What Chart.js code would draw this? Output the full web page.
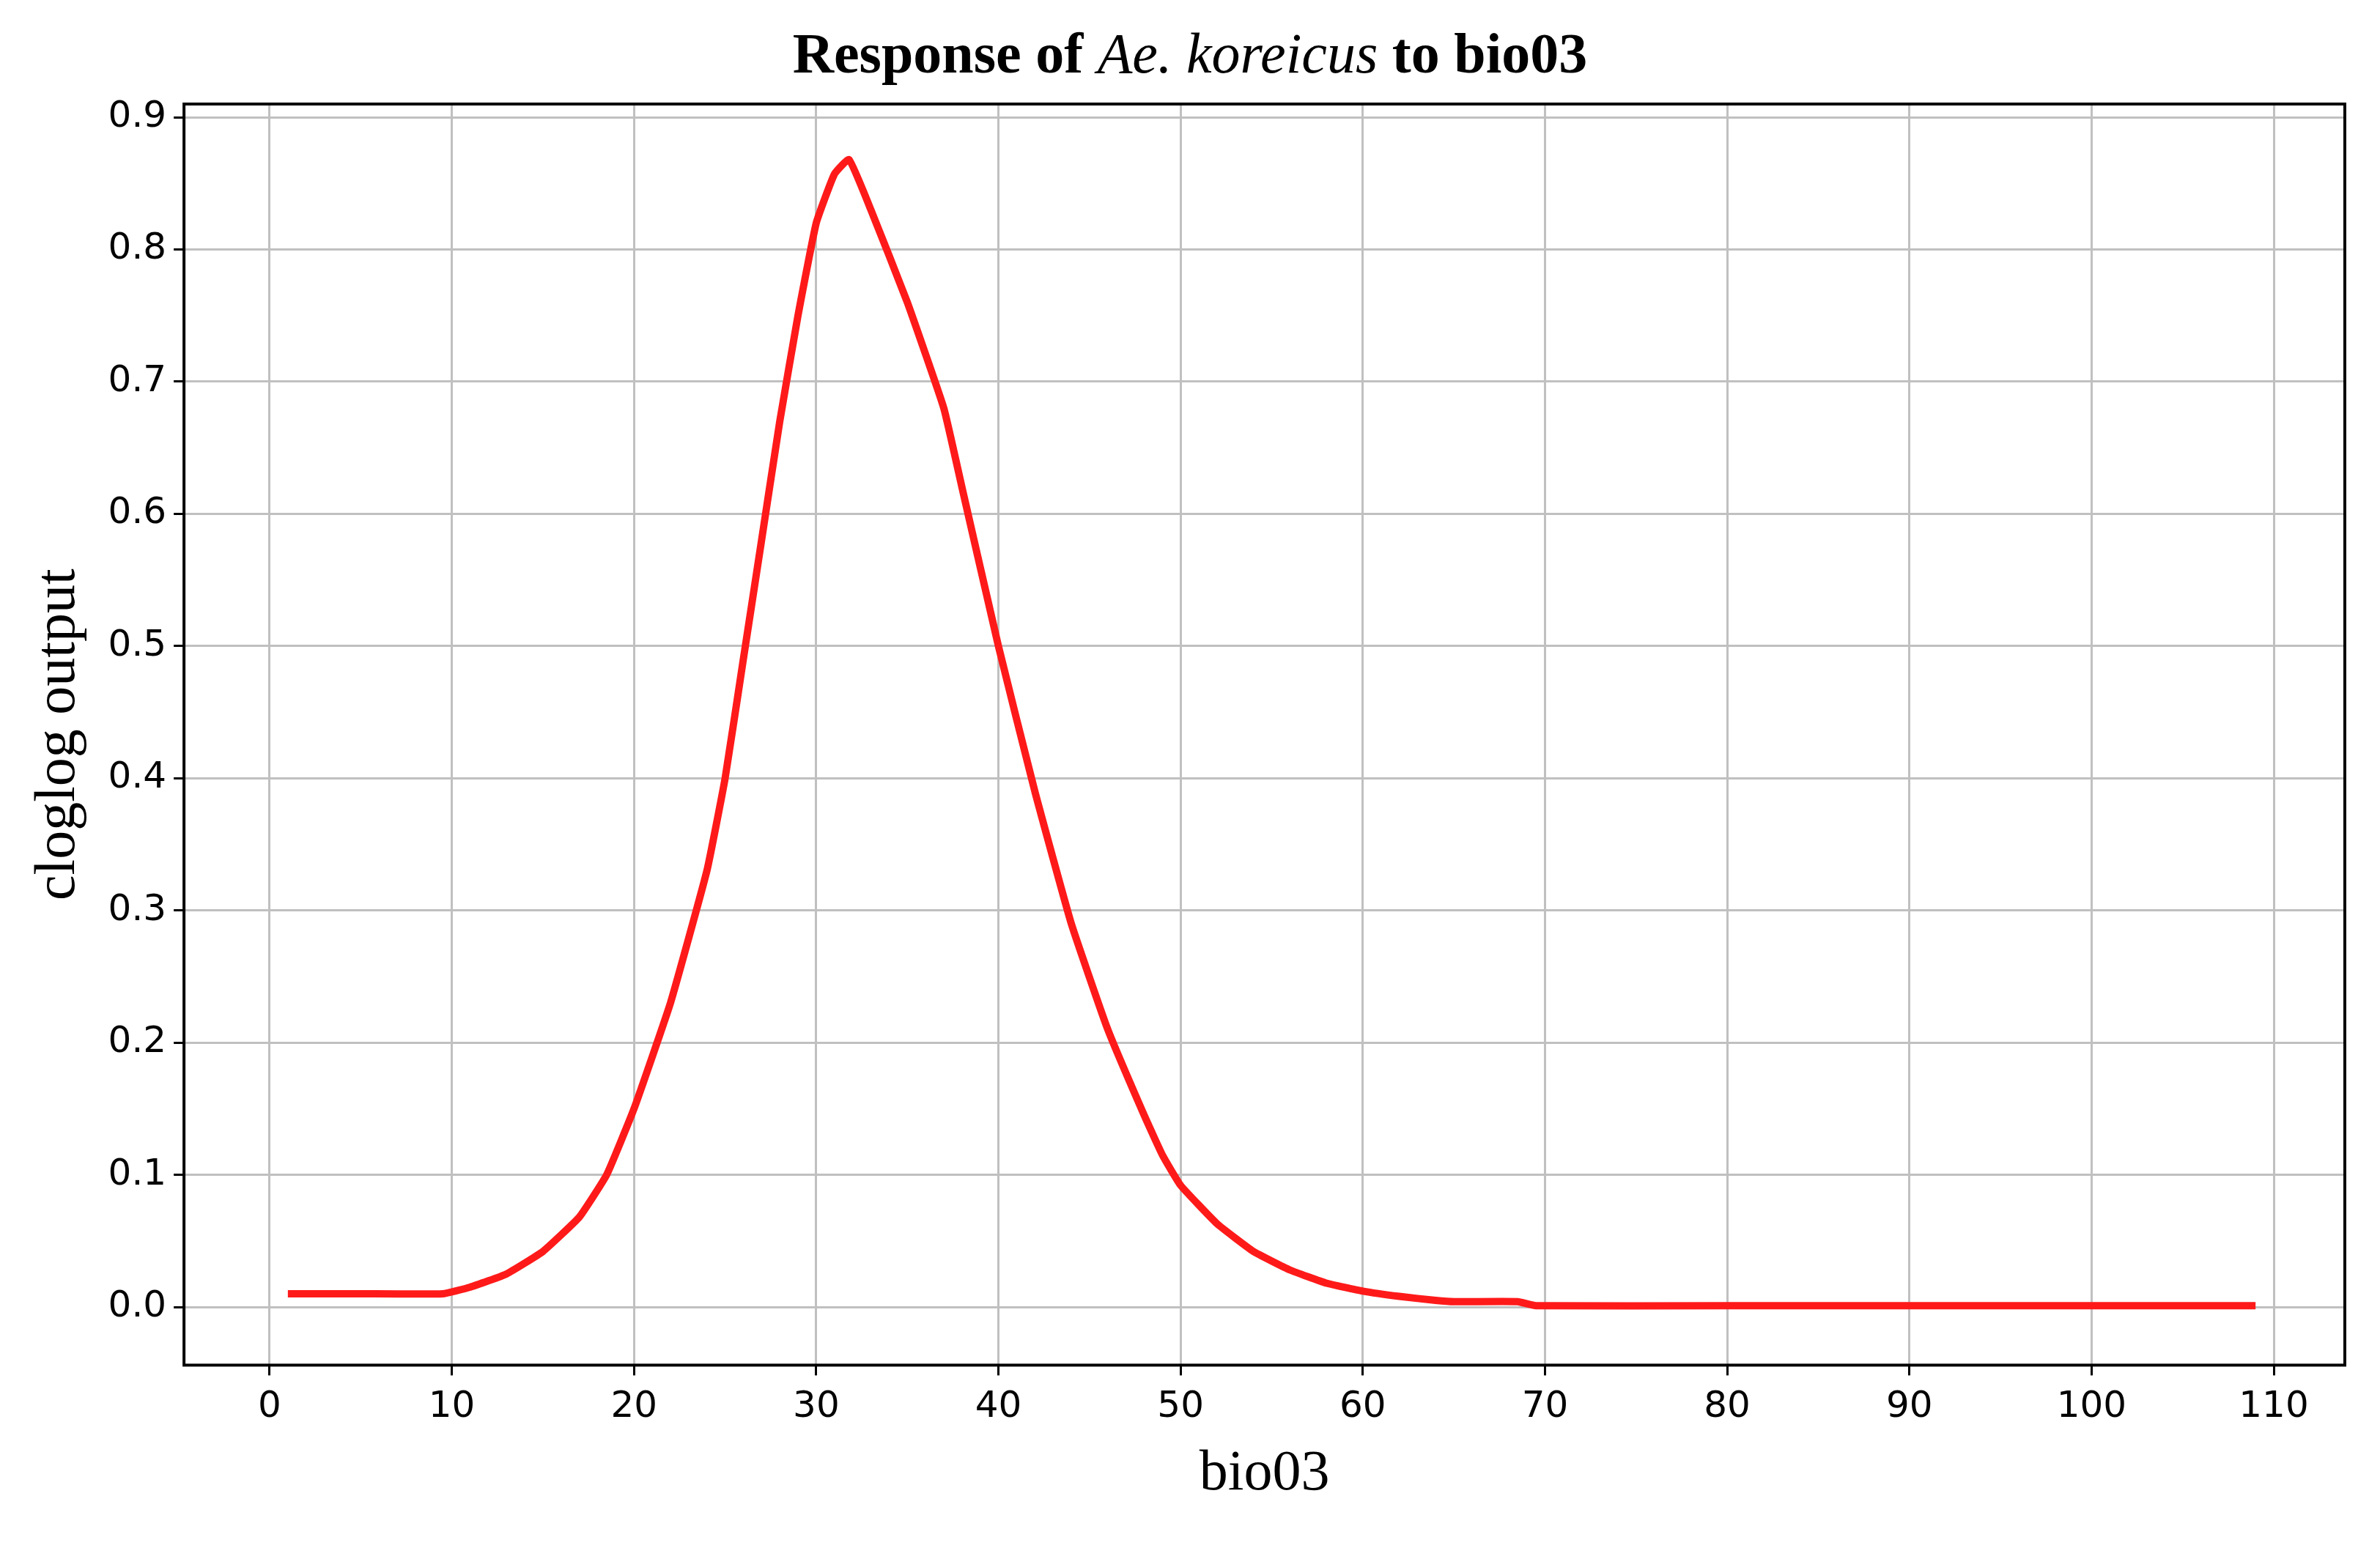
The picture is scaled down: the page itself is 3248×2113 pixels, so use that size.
<!DOCTYPE html>
<html><head><meta charset="utf-8">
<script src="https://cdn.jsdelivr.net/npm/chart.js@4"></script>
<style>
html,body{margin:0;padding:0;background:#fff;}
#wrap{position:relative;width:3248px;height:2113px;}
#title{position:absolute;top:28px;left:0;width:3248px;text-align:center;font-family:"Liberation Serif","DejaVu Serif",serif;font-size:78px;font-weight:bold;}
#title i{font-weight:normal;}
canvas{position:absolute;left:0;top:0;}
</style></head>
<body>
<div id="wrap">
<div id="title">Response of <i>Ae. koreicus</i> to bio03</div>
<canvas id="c" width="3248" height="2113"></canvas>
</div>
<script>
const xVals = [1, 5, 9.5, 11, 13, 15, 17, 18.5, 20, 22, 24, 25, 26, 27, 28, 29, 30, 31, 31.8, 33, 35, 37, 38, 40, 42, 44, 46, 48, 49, 50, 52, 54, 56, 58, 60, 62, 64, 65, 68.5, 69.5, 80, 90, 100, 109];
const yVals = [0.01, 0.01, 0.01, 0.015, 0.025, 0.042, 0.068, 0.1, 0.15, 0.23, 0.33, 0.4, 0.49, 0.58, 0.67, 0.75, 0.82, 0.857, 0.868, 0.83, 0.76, 0.68, 0.62, 0.5, 0.39, 0.29, 0.21, 0.145, 0.115, 0.092, 0.063, 0.042, 0.028, 0.018, 0.012, 0.008, 0.005, 0.004, 0.004, 0.001, 0.001, 0.001, 0.001, 0.001];
const xTicks = [0, 10, 20, 30, 40, 50, 60, 70, 80, 90, 100, 110];
const yTicks = [0, 0.1, 0.2, 0.3, 0.4, 0.5, 0.6, 0.7, 0.8, 0.9];

const border = {
  id: 'border',
  afterDraw(chart) {
    const a = chart.chartArea, ctx = chart.ctx;
    ctx.save();
    ctx.strokeStyle = '#000';
    ctx.lineWidth = 4;
    ctx.strokeRect(a.left, a.top, a.right - a.left, a.bottom - a.top);
    ctx.restore();
  }
};

new Chart(document.getElementById('c'), {
  type: 'scatter',
  data: {
    datasets: [{
      data: xVals.map((x, i) => ({ x: x, y: yVals[i] })),
      showLine: true,
      borderColor: '#ff1a1a',
      borderWidth: 10,
      pointRadius: 0,
      tension: 0.12
    }]
  },
  options: {
    responsive: false,
    animation: false,
    layout: { padding: { top: 142, right: 48, left: 30, bottom: 50 } },
    plugins: { legend: { display: false }, tooltip: { enabled: false } },
    scales: {
      x: {
        type: 'linear', min: -4.7, max: 113.9,
        afterBuildTicks: ax => { ax.ticks = xTicks.map(v => ({ value: v })); },
        grid: { color: '#c0c0c0', lineWidth: 3, drawTicks: true, tickLength: 14, tickColor: '#000' },
        border: { display: false },
        ticks: { color: '#000', font: { family: 'DejaVu Sans', size: 50 }, padding: 14, maxRotation: 0 },
        title: { display: true, text: 'bio03', color: '#000', font: { family: 'Liberation Serif', size: 78 }, padding: { top: 0 } }
      },
      y: {
        type: 'linear', min: -0.044, max: 0.91,
        afterBuildTicks: ax => { ax.ticks = yTicks.map(v => ({ value: v })); },
        grid: { color: '#c0c0c0', lineWidth: 3, tickLength: 14, tickColor: '#000' },
        border: { display: false },
        ticks: { color: '#000', font: { family: 'DejaVu Sans', size: 50 }, padding: 10, callback: v => v.toFixed(1) },
        title: { display: true, text: 'cloglog output', color: '#000', font: { family: 'Liberation Serif', size: 78 }, padding: { bottom: 10 } }
      }
    }
  },
  plugins: [border]
});
</script>
</body></html>
